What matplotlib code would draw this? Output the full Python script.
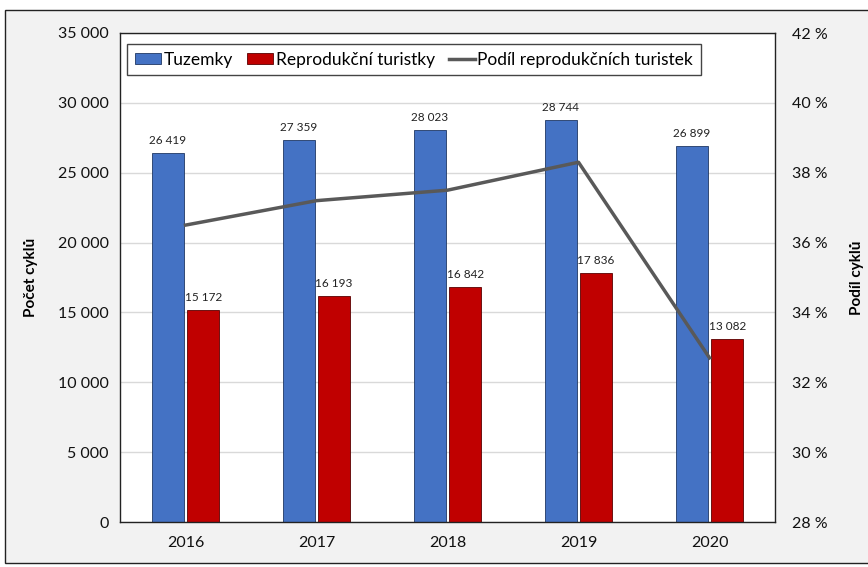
import matplotlib
matplotlib.use("Agg")
import matplotlib.pyplot as plt
from matplotlib.patches import Rectangle
from matplotlib.ticker import FuncFormatter
import numpy as np

plt.rcParams['font.family'] = ['Lato', 'DejaVu Sans']

years = ["2016", "2017", "2018", "2019", "2020"]
tuzemky = [26419, 27359, 28023, 28744, 26899]
reprod = [15172, 16193, 16842, 17836, 13082]
podil = [36.5, 37.2, 37.5, 38.3, 32.7]  # %

BLUE = "#4472C4"
RED = "#C00000"
LINE = "#595959"

fig = plt.figure(figsize=(8.68, 5.67), dpi=100, facecolor="white")
W, H = 868, 567
# grey chart area with thin border
fig.patches.append(Rectangle((5 / W, 4 / H), 1.0, 1 - 14 / H, transform=fig.transFigure,
                             facecolor="#f2f2f2", edgecolor="#222222", linewidth=1.0, zorder=-10))

ax = fig.add_axes([120 / W, 1 - 522 / H, 655 / W, (522 - 33) / H])
ax.set_facecolor("white")
x = np.arange(len(years))
bw = 0.24
gap = 0.015
b1 = ax.bar(x - bw / 2 - gap, tuzemky, bw, color=BLUE, edgecolor="#1f3864", linewidth=0.6,
            label="Tuzemky", zorder=2)
b2 = ax.bar(x + bw / 2 + gap, reprod, bw, color=RED, edgecolor="#5a0000", linewidth=0.6,
            label="Reprodukční turistky", zorder=2)

fmt = lambda v: f"{v:,.0f}".replace(",", " ")
for rects, vals in ((b1, tuzemky), (b2, reprod)):
    for r, v in zip(rects, vals):
        ax.text(r.get_x() + r.get_width() / 2, v + 500, fmt(v), ha="center", va="bottom",
                fontsize=8.5, color="#222222")

ax.set_xlim(-0.5, len(years) - 0.5)
ax.set_ylim(0, 35000)
ax.set_yticks(np.arange(0, 35001, 5000))
ax.yaxis.set_major_formatter(FuncFormatter(lambda v, p: fmt(v)))
ax.set_xticks(x)
ax.set_xticklabels(years)
ax.grid(axis="y", color="#d9d9d9", linewidth=1, zorder=0)
ax.set_axisbelow(True)
ax.tick_params(axis="both", length=0, labelsize=11.5, colors="#111111", pad=8)
ax.tick_params(axis="x", pad=10)
for s in ax.spines.values():
    s.set_color("#222222")
    s.set_linewidth(1.0)
ax.set_ylabel("Počet cyklů", fontsize=11, fontweight="bold", labelpad=14)

ax2 = ax.twinx()
ln, = ax2.plot(x, podil, color=LINE, linewidth=2.5, label="Podíl reprodukčních turistek", zorder=3)
ax2.set_ylim(28, 42)
ax2.set_yticks(np.arange(28, 42.1, 2))
ax2.yaxis.set_major_formatter(FuncFormatter(lambda v, p: f"{v:.0f} %"))
ax2.tick_params(axis="y", length=0, labelsize=11.5, colors="#111111", pad=12)
for s in ax2.spines.values():
    s.set_visible(False)
ax2.set_ylabel("Podíl cyklů", fontsize=11, fontweight="bold", labelpad=16)

leg = ax2.legend(handles=[b1, b2, ln], loc="upper left", ncol=3, fontsize=12.5,
                 bbox_to_anchor=(0.011, 0.978), frameon=True, fancybox=False,
                 handlelength=1.5, handleheight=0.6, handletextpad=0.15, columnspacing=0.8,
                 borderpad=0.45, borderaxespad=0)
leg.get_frame().set_edgecolor("#444444")
leg.get_frame().set_linewidth(1.0)
leg.get_frame().set_alpha(1.0)

fig.savefig("out.png", dpi=100, facecolor=fig.get_facecolor())
